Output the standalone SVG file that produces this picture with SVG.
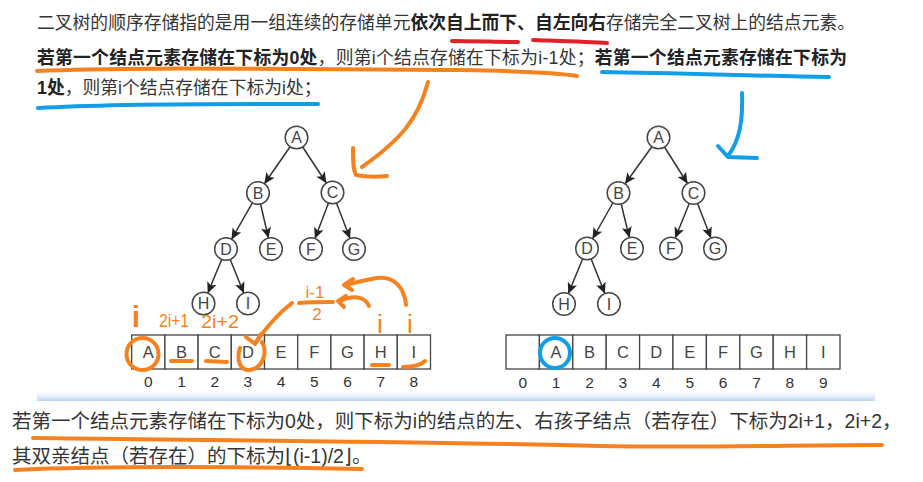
<svg xmlns="http://www.w3.org/2000/svg" width="923" height="482" viewBox="0 0 923 482">
<defs>
<style>
.t{font-family:"Liberation Sans","Noto Sans CJK SC",sans-serif;fill:#353535}
.top{font-size:17.8px}
.l2{letter-spacing:0.25px}
.bot{font-size:19.5px}
.b{font-weight:bold;fill:#222}
.e{stroke:#333;stroke-width:1.5;fill:none;marker-end:url(#ah)}
.n circle{fill:#fff;stroke:#444;stroke-width:1.5}
.n text{font-family:"Liberation Sans",sans-serif;font-size:16px;fill:#444;text-anchor:middle}
.c text{font-family:"Liberation Sans",sans-serif;font-size:16.5px;fill:#444;text-anchor:middle}
.c rect{fill:#fff;stroke:#444;stroke-width:1.3}
.idx{font-family:"Liberation Sans",sans-serif;font-size:15.5px;fill:#333;text-anchor:middle}
.o{stroke:#f5821f;fill:none;stroke-width:4;stroke-linecap:round;stroke-linejoin:round}
.bl{stroke:#129ee6;fill:none;stroke-width:4;stroke-linecap:round;stroke-linejoin:round}
.rd{stroke:#e3202a;fill:none;stroke-width:4;stroke-linecap:round}
.ot{font-family:"Liberation Sans",sans-serif;fill:#f5821f}
</style>
<marker id="ah" markerUnits="userSpaceOnUse" markerWidth="11" markerHeight="10" refX="22" refY="5" orient="auto" overflow="visible">
<path d="M0,0 L11,5 L0,10 L2.5,5 z" fill="#222"/>
</marker>
<linearGradient id="band" x1="0" y1="0" x2="0" y2="1">
<stop offset="0" stop-color="#ffffff" stop-opacity="0"/>
<stop offset="1" stop-color="#b8d3f6"/>
</linearGradient>
</defs>
<rect width="923" height="482" fill="#fff"/>

<g id="text-top">
<text class="t top" x="37" y="29">二叉树的顺序存储指的是用一组连续的存储单元<tspan class="b">依次自上而下、自左向右</tspan>存储完全二叉树上的结点元素。</text>
<text class="t top l2" x="37" y="64"><tspan class="b">若第一个结点元素存储在下标为0处</tspan>，则第i个结点存储在下标为i-1处；<tspan class="b">若第一个结点元素存储在下标为</tspan></text>
<text class="t top" x="37" y="94"><tspan class="b">1处</tspan>，则第i个结点存储在下标为i处；</text>
</g>

<g id="connectors">
<line class="e" x1="296.5" y1="137.5" x2="258" y2="193"/>
<line class="e" x1="296.5" y1="137.5" x2="332.5" y2="192.5"/>
<line class="e" x1="258" y1="193" x2="226" y2="249"/>
<line class="e" x1="258" y1="193" x2="271" y2="249"/>
<line class="e" x1="332.5" y1="192.5" x2="311" y2="249"/>
<line class="e" x1="332.5" y1="192.5" x2="354" y2="249"/>
<line class="e" x1="226" y1="249" x2="203.5" y2="303.5"/>
<line class="e" x1="226" y1="249" x2="248" y2="303.5"/>
<line class="e" x1="658.5" y1="137.5" x2="618.5" y2="193"/>
<line class="e" x1="658.5" y1="137.5" x2="693.5" y2="193"/>
<line class="e" x1="618.5" y1="193" x2="587" y2="248.5"/>
<line class="e" x1="618.5" y1="193" x2="632" y2="248.5"/>
<line class="e" x1="693.5" y1="193" x2="671" y2="248.5"/>
<line class="e" x1="693.5" y1="193" x2="715" y2="248.5"/>
<line class="e" x1="587" y1="248.5" x2="564" y2="304"/>
<line class="e" x1="587" y1="248.5" x2="609" y2="304"/>
</g>

<g id="tree-left">
<g id="L-A" class="n"><circle cx="296.5" cy="137.5" r="11.3"/><text x="296.5" y="143.3">A</text></g>
<g id="L-B" class="n"><circle cx="258" cy="193" r="11.3"/><text x="258" y="198.8">B</text></g>
<g id="L-C" class="n"><circle cx="332.5" cy="192.5" r="11.3"/><text x="332.5" y="198.3">C</text></g>
<g id="L-D" class="n"><circle cx="226" cy="249" r="11.3"/><text x="226" y="254.8">D</text></g>
<g id="L-E" class="n"><circle cx="271" cy="249" r="11.3"/><text x="271" y="254.8">E</text></g>
<g id="L-F" class="n"><circle cx="311" cy="249" r="11.3"/><text x="311" y="254.8">F</text></g>
<g id="L-G" class="n"><circle cx="354" cy="249" r="11.3"/><text x="354" y="254.8">G</text></g>
<g id="L-H" class="n"><circle cx="203.5" cy="303.5" r="11.3"/><text x="203.5" y="309.3">H</text></g>
<g id="L-I" class="n"><circle cx="248" cy="303.5" r="11.3"/><text x="248" y="309.3">I</text></g>
</g>

<g id="tree-right">
<g id="R-A" class="n"><circle cx="658.5" cy="137.5" r="11.3"/><text x="658.5" y="143.3">A</text></g>
<g id="R-B" class="n"><circle cx="618.5" cy="193" r="11.3"/><text x="618.5" y="198.8">B</text></g>
<g id="R-C" class="n"><circle cx="693.5" cy="193" r="11.3"/><text x="693.5" y="198.8">C</text></g>
<g id="R-D" class="n"><circle cx="587" cy="248.5" r="11.3"/><text x="587" y="254.3">D</text></g>
<g id="R-E" class="n"><circle cx="632" cy="248.5" r="11.3"/><text x="632" y="254.3">E</text></g>
<g id="R-F" class="n"><circle cx="671" cy="248.5" r="11.3"/><text x="671" y="254.3">F</text></g>
<g id="R-G" class="n"><circle cx="715" cy="248.5" r="11.3"/><text x="715" y="254.3">G</text></g>
<g id="R-H" class="n"><circle cx="564" cy="304" r="11.3"/><text x="564" y="309.8">H</text></g>
<g id="R-I" class="n"><circle cx="609" cy="304" r="11.3"/><text x="609" y="309.8">I</text></g>
</g>

<g id="array-left" class="c">
<rect x="131.7" y="335" width="33.2" height="34"/><text x="148.3" y="358">A</text>
<rect x="164.9" y="335" width="33.2" height="34"/><text x="181.5" y="358">B</text>
<rect x="198.1" y="335" width="33.2" height="34"/><text x="214.7" y="358">C</text>
<rect x="231.3" y="335" width="33.2" height="34"/><text x="247.9" y="358">D</text>
<rect x="264.5" y="335" width="33.2" height="34"/><text x="281.1" y="358">E</text>
<rect x="297.7" y="335" width="33.2" height="34"/><text x="314.3" y="358">F</text>
<rect x="330.9" y="335" width="33.2" height="34"/><text x="347.5" y="358">G</text>
<rect x="364.1" y="335" width="33.2" height="34"/><text x="380.7" y="358">H</text>
<rect x="397.3" y="335" width="33.2" height="34"/><text x="413.9" y="358">I</text>
</g>
<g id="index-left" class="idx">
<text x="148.3" y="387">0</text><text x="181.5" y="387">1</text><text x="214.7" y="387">2</text><text x="247.9" y="387">3</text><text x="281.1" y="387">4</text><text x="314.3" y="387">5</text><text x="347.5" y="387">6</text><text x="380.7" y="387">7</text><text x="413.9" y="387">8</text>
</g>

<g id="array-right" class="c">
<rect x="506" y="335" width="33.4" height="34"/>
<rect x="539.4" y="335" width="33.4" height="34"/><text x="556.1" y="358">A</text>
<rect x="572.8" y="335" width="33.4" height="34"/><text x="589.5" y="358">B</text>
<rect x="606.2" y="335" width="33.4" height="34"/><text x="622.9" y="358">C</text>
<rect x="639.6" y="335" width="33.4" height="34"/><text x="656.3" y="358">D</text>
<rect x="673" y="335" width="33.4" height="34"/><text x="689.7" y="358">E</text>
<rect x="706.4" y="335" width="33.4" height="34"/><text x="723.1" y="358">F</text>
<rect x="739.8" y="335" width="33.4" height="34"/><text x="756.5" y="358">G</text>
<rect x="773.2" y="335" width="33.4" height="34"/><text x="789.9" y="358">H</text>
<rect x="806.6" y="335" width="33.4" height="34"/><text x="823.3" y="358">I</text>
</g>
<g id="index-right" class="idx">
<text x="522.7" y="388">0</text><text x="556.1" y="388">1</text><text x="589.5" y="388">2</text><text x="622.9" y="388">3</text><text x="656.3" y="388">4</text><text x="689.7" y="388">5</text><text x="723.1" y="388">6</text><text x="756.5" y="388">7</text><text x="789.9" y="388">8</text><text x="823.3" y="388">9</text>
</g>

<rect id="band" x="37" y="389" width="838" height="12" fill="url(#band)"/>

<g id="text-bottom">
<text class="t bot" x="12" y="428">若第一个结点元素存储在下标为0处，则下标为i的结点的左、右孩子结点（若存在）下标为2i+1，2i+2，</text>
<text class="t bot" x="12" y="463">其双亲结点（若存在）的下标为⌊(i-1)/2⌋。</text>
</g>

<g id="annotations">
<path class="rd" d="M452,41 C475,41 500,42 518,42"/>
<path class="rd" d="M533,40 C560,41 590,42 607,43"/>
<path class="o" d="M37,71 C120,67 250,69 460,70 C520,71 560,73 577,76"/>
<path class="bl" d="M38,108 C120,103 250,104 318,104"/>
<path class="bl" d="M602,72 C680,73 760,76 829,77"/>
<path class="o" d="M428,82 C418,120 400,140 362,167"/>
<path class="o" d="M353,148 C353,160 353,170 356,175 C365,177 378,177 387,176"/>
<path class="bl" d="M742,93 C743,120 740,140 728,156"/>
<path class="bl" d="M718,146 L728,157 L757,158"/>
<circle class="o" cx="142.5" cy="354" r="16" stroke-width="4.5"/>
<circle class="bl" cx="555" cy="353" r="15" stroke-width="4.5"/>
<path class="o" stroke-width="3" d="M171,361 L192,361"/>
<path class="o" stroke-width="3" d="M206,361 L227,362"/>
<path class="o" stroke-width="3" d="M372,365 L389,365"/>
<path class="o" stroke-width="3" d="M403,367 C412,367 420,366 425,361"/>
<path class="o" stroke-width="3" d="M292,303 C280,312 266,328 256,342"/>
<path class="o" stroke-width="3" d="M246,337 L255,344 L261,334"/>
<path class="o" stroke-width="3" d="M262,342 C268,352 263,368 250,370 C240,371 236,360 240,348"/>
<path class="o" stroke-width="3" d="M299,303 C310,302 322,302 333,302"/>
<path class="o" stroke-width="3" d="M369,306 C365,296 352,295 340,301"/>
<path class="o" stroke-width="3" d="M346,296 L338,301 L344,307"/>
<path class="o" stroke-width="3" d="M406,305 C404,285 392,276 377,278 C364,280 354,283 346,285"/>
<path class="o" stroke-width="3" d="M353,279 L344,285 L352,290"/>
<text class="ot" x="136" y="327" font-size="30" font-weight="bold" text-anchor="middle">i</text>
<text class="ot" x="159" y="327" font-size="19" textLength="30" lengthAdjust="spacingAndGlyphs">2i+1</text>
<text class="ot" x="201" y="328" font-size="19" textLength="38" lengthAdjust="spacingAndGlyphs">2i+2</text>
<text class="ot" x="315" y="298" font-size="17" text-anchor="middle">i-1</text>
<text class="ot" x="317" y="320" font-size="17" text-anchor="middle">2</text>
<text class="ot" x="380" y="333" font-size="26" text-anchor="middle">i</text>
<text class="ot" x="410" y="333" font-size="26" text-anchor="middle">i</text>
<path class="o" stroke-width="5" d="M33,438 C200,440 460,442 600,446 C700,448 800,445 882,445"/>
<path class="o" stroke-width="5" d="M15,470 C100,466 250,467 362,469"/>
</g>
</svg>
